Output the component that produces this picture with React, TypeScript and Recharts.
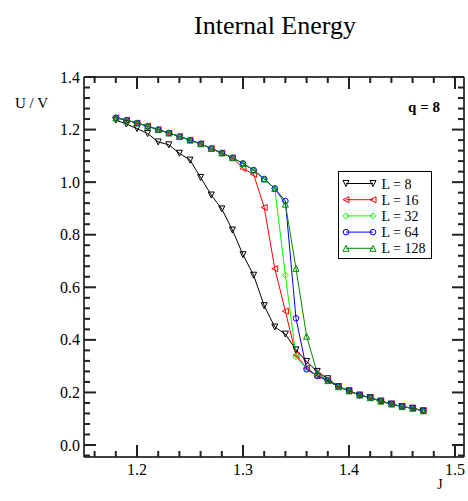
import React from "react";
import { LineChart, Line, XAxis, YAxis, Legend } from "recharts";

const SERIF = '"Liberation Serif", "DejaVu Serif", serif';

// coupling J, one point per 0.01
const J = [
  1.18, 1.19, 1.2, 1.21, 1.22, 1.23, 1.24, 1.25, 1.26, 1.27,
  1.28, 1.29, 1.3, 1.31, 1.32, 1.33, 1.34, 1.35, 1.36, 1.37,
  1.38, 1.39, 1.4, 1.41, 1.42, 1.43, 1.44, 1.45, 1.46, 1.47,
];

// U / V for each lattice size
const L8 = [
  1.236, 1.221, 1.204, 1.185, 1.153, 1.142, 1.11, 1.084, 1.018, 0.951,
  0.898, 0.818, 0.724, 0.646, 0.53, 0.449, 0.422, 0.362, 0.318, 0.28,
  0.252, 0.222, 0.206, 0.19, 0.18, 0.167, 0.156, 0.146, 0.14, 0.13,
];
const L16 = [
  1.245, 1.236, 1.225, 1.213, 1.2, 1.187, 1.174, 1.16, 1.146, 1.128,
  1.111, 1.093, 1.052, 1.03, 0.904, 0.671, 0.509, 0.342, 0.293, 0.263,
  0.245, 0.222, 0.206, 0.19, 0.18, 0.167, 0.156, 0.146, 0.14, 0.13,
];
const L32 = [
  1.245, 1.236, 1.225, 1.213, 1.2, 1.187, 1.174, 1.16, 1.146, 1.128,
  1.111, 1.093, 1.071, 1.046, 1.012, 0.976, 0.646, 0.336, 0.29, 0.263,
  0.245, 0.222, 0.206, 0.19, 0.18, 0.167, 0.156, 0.146, 0.14, 0.13,
];
const L64 = [
  1.245, 1.236, 1.225, 1.213, 1.2, 1.187, 1.174, 1.16, 1.146, 1.128,
  1.111, 1.093, 1.071, 1.046, 1.012, 0.976, 0.928, 0.482, 0.288, 0.263,
  0.245, 0.222, 0.206, 0.19, 0.18, 0.167, 0.156, 0.146, 0.14, 0.13,
];
const L128 = [
  1.245, 1.236, 1.225, 1.213, 1.2, 1.187, 1.174, 1.16, 1.146, 1.128,
  1.111, 1.093, 1.071, 1.046, 1.012, 0.976, 0.916, 0.672, 0.414, 0.275,
  0.245, 0.222, 0.206, 0.19, 0.18, 0.167, 0.156, 0.146, 0.14, 0.13,
];

const X_TICKS = [
  1.16, 1.18, 1.2, 1.22, 1.24, 1.26, 1.28, 1.3, 1.32, 1.34,
  1.36, 1.38, 1.4, 1.42, 1.44, 1.46, 1.48, 1.5,
];
const Y_TICKS = [
  -0.04, 0, 0.04, 0.08, 0.12, 0.16, 0.2, 0.24, 0.28, 0.32, 0.36, 0.4,
  0.44, 0.48, 0.52, 0.56, 0.6, 0.64, 0.68, 0.72, 0.76, 0.8, 0.84, 0.88,
  0.92, 0.96, 1, 1.04, 1.08, 1.12, 1.16, 1.2, 1.24, 1.28, 1.32, 1.36, 1.4,
];

const X_DOMAIN = [1.15, 1.5085];
const Y_DOMAIN = [-0.0456, 1.4];

const SERIES = [
  { key: "l8", name: "L = 8", color: "#000000", marker: "down" },
  { key: "l16", name: "L = 16", color: "#ff0000", marker: "left" },
  { key: "l32", name: "L = 32", color: "#00ff00", marker: "diamond" },
  { key: "l64", name: "L = 64", color: "#0000ff", marker: "circle" },
  { key: "l128", name: "L = 128", color: "#008b00", marker: "up" },
];

const data = J.map((j, i) => ({
  j,
  l8: L8[i],
  l16: L16[i],
  l32: L32[i],
  l64: L64[i],
  l128: L128[i],
}));

const isMajor = (v: number, step: number) =>
  Math.abs(v / step - Math.round(v / step)) < 1e-6;

function Marker({ kind, cx, cy, color }: any) {
  const s = 3;
  if (kind === "circle") {
    return <circle cx={cx} cy={cy} r={2.8} fill="none" stroke={color} strokeWidth={1} />;
  }
  let pts = "";
  if (kind === "down") pts = `${cx - s},${cy - s} ${cx + s},${cy - s} ${cx},${cy + s}`;
  if (kind === "up") pts = `${cx - s},${cy + s} ${cx + s},${cy + s} ${cx},${cy - s}`;
  if (kind === "left") pts = `${cx + s},${cy - s} ${cx + s},${cy + s} ${cx - s},${cy}`;
  if (kind === "diamond") pts = `${cx},${cy - s} ${cx + s},${cy} ${cx},${cy + s} ${cx - s},${cy}`;
  return <polygon points={pts} fill="none" stroke={color} strokeWidth={1} />;
}

// inward tick marks (thin filled rects) on all four sides of the frame
const MAJOR = 12;
const MINOR = 6;
const TW = 2;
const TICK_FILL = "#222";

function renderBottomTick(props: any) {
  const x = Number(props.x);
  const y = Number(props.y);
  const major = isMajor(props.payload.value, 0.1);
  const len = major ? MAJOR : MINOR;
  return (
    <g key={`b-${props.index}`}>
      <rect x={x - TW / 2} y={y - len} width={TW} height={len} fill={TICK_FILL} />
      {major && (
        <text x={x} y={y + 18} textAnchor="middle" fontSize={16} fontFamily={SERIF} fill="#000">
          {props.payload.value.toFixed(1)}
        </text>
      )}
    </g>
  );
}

function renderTopTick(props: any) {
  const x = Number(props.x);
  const y = Number(props.y);
  const len = isMajor(props.payload.value, 0.1) ? MAJOR : MINOR;
  return <rect key={`t-${props.index}`} x={x - TW / 2} y={y} width={TW} height={len} fill={TICK_FILL} />;
}

function renderLeftTick(props: any) {
  const x = Number(props.x);
  const y = Number(props.y);
  const major = isMajor(props.payload.value, 0.2);
  const len = major ? MAJOR : MINOR;
  return (
    <g key={`l-${props.index}`}>
      <rect x={x} y={y - TW / 2} width={len} height={TW} fill={TICK_FILL} />
      {major && (
        <text x={x - 4} y={y + 5.5} textAnchor="end" fontSize={16} fontFamily={SERIF} fill="#000">
          {Math.abs(props.payload.value).toFixed(1)}
        </text>
      )}
    </g>
  );
}

function renderRightTick(props: any) {
  const x = Number(props.x);
  const y = Number(props.y);
  const len = isMajor(props.payload.value, 0.2) ? MAJOR : MINOR;
  return <rect key={`r-${props.index}`} x={x - len} y={y - TW / 2} width={len} height={TW} fill={TICK_FILL} />;
}

function LegendBox() {
  return (
    <svg width={94} height={88} style={{ display: "block" }}>
      <rect x={0.5} y={0.5} width={93} height={87} fill="#fff" stroke="#000" />
      {SERIES.map((s, i) => {
        const cy = 12.5 + i * 16.2;
        return (
          <g key={s.key}>
            <line x1={8} y1={cy} x2={35} y2={cy} stroke={s.color} />
            <Marker kind={s.marker} cx={8} cy={cy} color={s.color} />
            <Marker kind={s.marker} cx={35} cy={cy} color={s.color} />
            <text x={43.5} y={cy + 5} fontSize={14} fontFamily={SERIF} fill="#000">
              {s.name}
            </text>
          </g>
        );
      })}
    </svg>
  );
}

export default function App() {
  return (
    <div style={{ position: "relative", width: 468, height: 501, background: "#fff" }}>
      <style>{"body{margin:0}"}</style>
      <LineChart width={468} height={501} data={data} margin={{ top: 0, right: 0, bottom: 0, left: 0 }}>
        <XAxis
          xAxisId="b"
          dataKey="j"
          type="number"
          domain={X_DOMAIN}
          allowDataOverflow
          ticks={X_TICKS}
          interval={0}
          height={44}
          tickSize={0}
          tickMargin={0}
          tickLine={false}
          tick={renderBottomTick}
          axisLine={{ stroke: "#000", strokeWidth: 1.5 }}
        />
        <XAxis
          xAxisId="t"
          orientation="top"
          dataKey="j"
          type="number"
          domain={X_DOMAIN}
          allowDataOverflow
          ticks={X_TICKS}
          interval={0}
          height={77}
          tickSize={0}
          tickMargin={0}
          tickLine={false}
          tick={renderTopTick}
          axisLine={{ stroke: "#000", strokeWidth: 1.5 }}
        />
        <YAxis
          yAxisId="l"
          type="number"
          domain={Y_DOMAIN}
          allowDataOverflow
          ticks={Y_TICKS}
          interval={0}
          width={84}
          tickSize={0}
          tickMargin={0}
          tickLine={false}
          tick={renderLeftTick}
          axisLine={{ stroke: "#000", strokeWidth: 1.5 }}
        />
        <YAxis
          yAxisId="r"
          orientation="right"
          type="number"
          domain={Y_DOMAIN}
          allowDataOverflow
          ticks={Y_TICKS}
          interval={0}
          width={4}
          tickSize={0}
          tickMargin={0}
          tickLine={false}
          tick={renderRightTick}
          axisLine={{ stroke: "#000", strokeWidth: 1.5 }}
        />
        <Legend
          layout="horizontal"
          verticalAlign="middle"
          align="center"
          wrapperStyle={{ position: "absolute", left: 338, top: 171, width: 94, height: 88 }}
          content={() => <LegendBox />}
        />
        {SERIES.map((s) => (
          <Line
            key={s.key}
            xAxisId="b"
            yAxisId="l"
            type="linear"
            dataKey={s.key}
            name={s.name}
            stroke={s.color}
            strokeWidth={1}
            isAnimationActive={false}
            dot={(p: any) => <Marker key={`${s.key}-${p.index}`} kind={s.marker} cx={p.cx} cy={p.cy} color={s.color} />}
            activeDot={false}
          />
        ))}
      </LineChart>
      <svg
        width={468}
        height={501}
        style={{ position: "absolute", left: 0, top: 0, pointerEvents: "none" }}
      >
        <text x={275} y={34} textAnchor="middle" fontSize={26} fontFamily={SERIF} fill="#000">
          Internal Energy
        </text>
        <text x={440} y={112} textAnchor="end" fontSize={15} fontWeight="bold" fontFamily={SERIF} fill="#000">
          q = 8
        </text>
        <text x={15} y={108} fontSize={15} fontFamily={SERIF} fill="#000">
          U / V
        </text>
        <text x={440} y={489} textAnchor="middle" fontSize={14} fontFamily={SERIF} fill="#000">
          J
        </text>
      </svg>
    </div>
  );
}
